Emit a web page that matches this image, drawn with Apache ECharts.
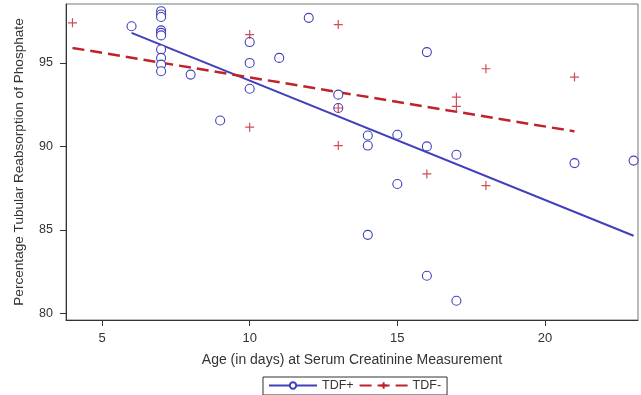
<!DOCTYPE html>
<html>
<head>
<meta charset="utf-8">
<script src="https://cdn.jsdelivr.net/npm/echarts@6/dist/echarts.min.js"></script>
<style>html,body{margin:0;padding:0;background:#fff}#c{width:641px;height:395px}</style>
</head>
<body>
<div id="c"></div>
<script>
// TDF+ observations (age in days, % TRP)
const tdfPosAge = [6, 7, 7, 7, 7, 7, 7, 7, 7, 7, 7, 8, 9, 10, 10, 10, 11, 12, 13, 13, 14, 14, 14, 15, 15, 16, 16, 16, 17, 17, 21, 23];
const tdfPosTrp = [97.2, 98.1, 97.9, 97.75, 96.95, 96.8, 96.65, 95.8, 95.3, 94.9, 94.5, 94.3, 91.55, 96.25, 95.0, 93.45, 95.3, 97.7, 93.1, 92.3, 90.65, 90.05, 84.7, 90.7, 87.75, 95.65, 90.0, 82.25, 89.5, 80.75, 89.0, 89.15];
// TDF- observations
const tdfNegAge = [4, 10, 10, 13, 13, 13, 16, 17, 17, 18, 18, 21];
const tdfNegTrp = [97.4, 96.7, 91.15, 97.3, 92.3, 90.05, 88.35, 92.95, 92.4, 94.65, 87.65, 94.15];
// fitted regression lines (end points)
const fitPosAge = [6, 23];
const fitPosTrp = [96.8, 84.65];
const fitNegAge = [4, 21];
const fitNegTrp = [95.9, 90.9];
// axis ticks
const xTicks = [5, 10, 15, 20];
const yTicks = [80, 85, 90, 95];

const BLUE = '#4040bc';
const RED = '#c0222c';
const FONT = 'Liberation Sans';
const zip = (a, b) => a.map((v, i) => [v, b[i]]);

const chart = echarts.init(document.getElementById('c'), null, {renderer: 'canvas'});
chart.setOption({
  animation: false,
  backgroundColor: '#fff',
  textStyle: {fontFamily: FONT},
  grid: {left: 66, right: 3, top: 4, bottom: 75, show: true, borderColor: '#777', borderWidth: 1},
  xAxis: {
    type: 'value', min: 3.78, max: 23.15,
    name: 'Age (in days) at Serum Creatinine Measurement',
    nameLocation: 'middle', nameGap: 33,
    nameTextStyle: {fontSize: 14, color: '#333', fontFamily: FONT},
    splitLine: {show: false},
    axisLine: {lineStyle: {color: '#333', width: 1}},
    axisTick: {show: true, customValues: xTicks, length: 6, lineStyle: {color: '#333'}},
    axisLabel: {customValues: xTicks, fontSize: 13, color: '#333', margin: 12, fontFamily: FONT}
  },
  yAxis: {
    type: 'value', min: 79.6, max: 98.53,
    name: 'Percentage Tubular Reabsorption of Phosphate',
    nameLocation: 'middle', nameGap: 40,
    nameTextStyle: {fontSize: 13.6, color: '#333', fontFamily: FONT},
    splitLine: {show: false},
    axisLine: {show: true, lineStyle: {color: '#333', width: 1}},
    axisTick: {show: true, customValues: yTicks, length: 6, lineStyle: {color: '#333'}},
    axisLabel: {customValues: yTicks, fontSize: 12.5, color: '#333', margin: 13, fontFamily: FONT}
  },
  legend: {
    data: ['TDF+', 'TDF-'],
    left: 263, top: 377,
    padding: [2, 6, 3, 5],
    itemGap: 5, itemWidth: 48, itemHeight: 8,
    borderColor: '#333', borderWidth: 1,
    textStyle: {fontSize: 12.5, color: '#333', fontFamily: FONT}
  },
  series: [
    {
      name: 'TDF+', type: 'line', data: zip(fitPosAge, fitPosTrp),
      symbol: 'circle', symbolSize: 7, showSymbol: false,
      lineStyle: {color: BLUE, width: 2},
      itemStyle: {color: '#fff', borderColor: BLUE, borderWidth: 1}, z: 3
    },
    {
      name: 'TDF-', type: 'line', data: zip(fitNegAge, fitNegTrp),
      symbol: 'path://M0,5L10,5M5,0L5,10', symbolSize: 9, showSymbol: false,
      lineStyle: {color: RED, width: 2.5, type: [12, 6]},
      itemStyle: {color: 'transparent', borderColor: RED, borderWidth: 1.2}, z: 3
    },
    {
      name: 'TDF+', type: 'scatter', data: zip(tdfPosAge, tdfPosTrp),
      symbol: 'circle', symbolSize: 9,
      itemStyle: {color: '#fff', borderColor: BLUE, borderWidth: 1.1, opacity: 1}, z: 4
    },
    {
      name: 'TDF-', type: 'scatter', data: zip(tdfNegAge, tdfNegTrp),
      symbol: 'path://M0,5L10,5M5,0L5,10', symbolSize: 9,
      itemStyle: {color: 'transparent', borderColor: RED, borderWidth: 1.2}, z: 5
    }
  ]
});
</script>
</body>
</html>
